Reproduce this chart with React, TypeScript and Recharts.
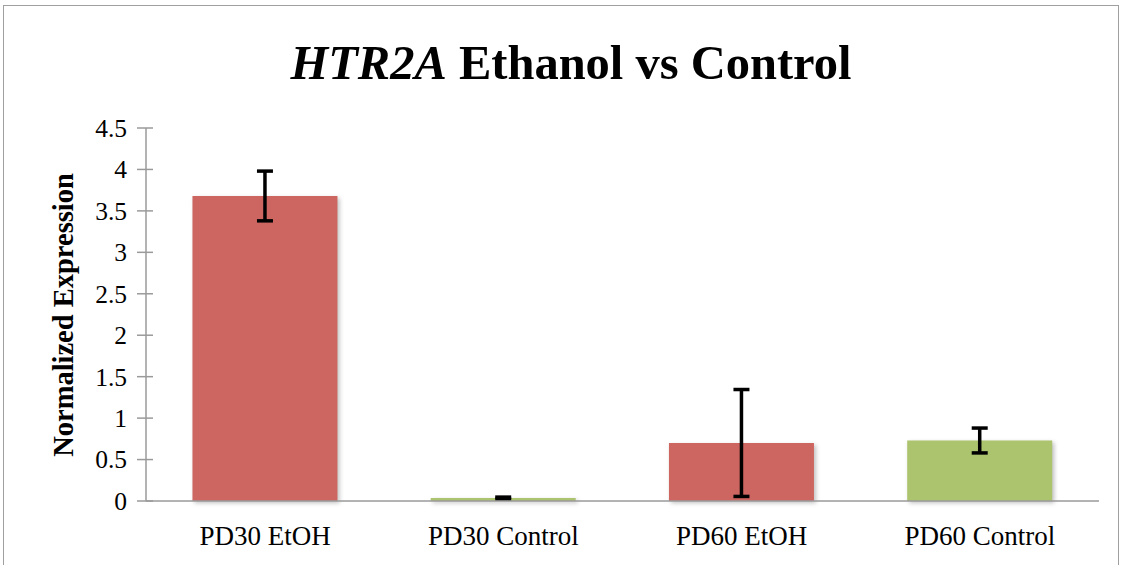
import React from 'react';
import { BarChart, Bar, XAxis, YAxis, ErrorBar, Cell } from 'recharts';

const categories = ['PD30 EtOH', 'PD30 Control', 'PD60 EtOH', 'PD60 Control'];
const values = [3.68, 0.035, 0.70, 0.73];
const errors = [0.30, 0.012, 0.645, 0.15];
const colors = ['#CD6660', '#ABC46D', '#CD6660', '#ABC46D'];
const yTicks = [0, 0.5, 1, 1.5, 2, 2.5, 3, 3.5, 4, 4.5];

const data = categories.map((c, i) => ({ name: c, value: values[i], err: errors[i] }));

const FONT = '"Liberation Serif", "Times New Roman", serif';

const YTick = (props: any) => {
  const { x, y, payload } = props;
  return (
    <g>
      <line x1={x - 9} x2={x + 7} y1={y} y2={y} stroke="#9a9a9a" strokeWidth={1.5} />
      <text x={x - 19} y={y} dy="0.35em" textAnchor="end" fontFamily={FONT} fontSize={25.5} fill="#000">
        {payload.value}
      </text>
    </g>
  );
};

const XTick = (props: any) => {
  const { x, y, payload } = props;
  return (
    <text x={x} y={y + 44} textAnchor="middle" fontFamily={FONT} fontSize={27} fill="#000">
      {payload.value}
    </text>
  );
};

export default function App() {
  return (
    <div style={{ position: 'absolute', left: 0, top: 0, width: 1124, height: 565, background: '#fff', overflow: 'hidden' }}>
      <div
        style={{
          position: 'absolute',
          left: 3,
          top: 5,
          width: 1116,
          height: 600,
          border: '1.5px solid #a0a0a0',
          boxSizing: 'border-box',
        }}
      />
      <svg width={1124} height={565} style={{ position: 'absolute', left: 0, top: 0 }}>
        <text x={571} y={79} textAnchor="middle" fontFamily={FONT} fontSize={48.5} fontWeight="bold" fill="#000">
          <tspan fontStyle="italic">HTR2A</tspan>
          <tspan> Ethanol vs Control</tspan>
        </text>
        <text
          x={0}
          y={0}
          transform="translate(73,315) rotate(-90)"
          textAnchor="middle"
          fontFamily={FONT}
          fontSize={28.5}
          fontWeight="bold"
          fill="#000"
        >
          Normalized Expression
        </text>
      </svg>
      <div style={{ position: 'absolute', left: 0, top: 0 }}>
        <BarChart
          width={1124}
          height={565}
          data={data}
          margin={{ top: 128, right: 25, bottom: 34, left: 66 }}
          barCategoryGap="19.5%"
        >
          <XAxis
            dataKey="name"
            height={30}
            axisLine={{ stroke: '#9a9a9a', strokeWidth: 1.5 }}
            tickLine={false}
            tickSize={0}
            tickMargin={0}
            tick={<XTick />}
            interval={0}
          />
          <YAxis
            width={80}
            domain={[0, 4.5]}
            ticks={yTicks}
            axisLine={{ stroke: '#9a9a9a', strokeWidth: 1.5 }}
            tickLine={false}
            tickSize={0}
            tickMargin={0}
            tick={<YTick />}
            interval={0}
          />
          <Bar dataKey="value" isAnimationActive={false}>
            {data.map((d, i) => (
              <Cell key={d.name} fill={colors[i]} style={{ filter: 'drop-shadow(2px 2px 2px rgba(0,0,0,0.25))' }} />
            ))}
            <ErrorBar dataKey="err" width={8} strokeWidth={3.5} stroke="#000" />
          </Bar>
        </BarChart>
      </div>
    </div>
  );
}
